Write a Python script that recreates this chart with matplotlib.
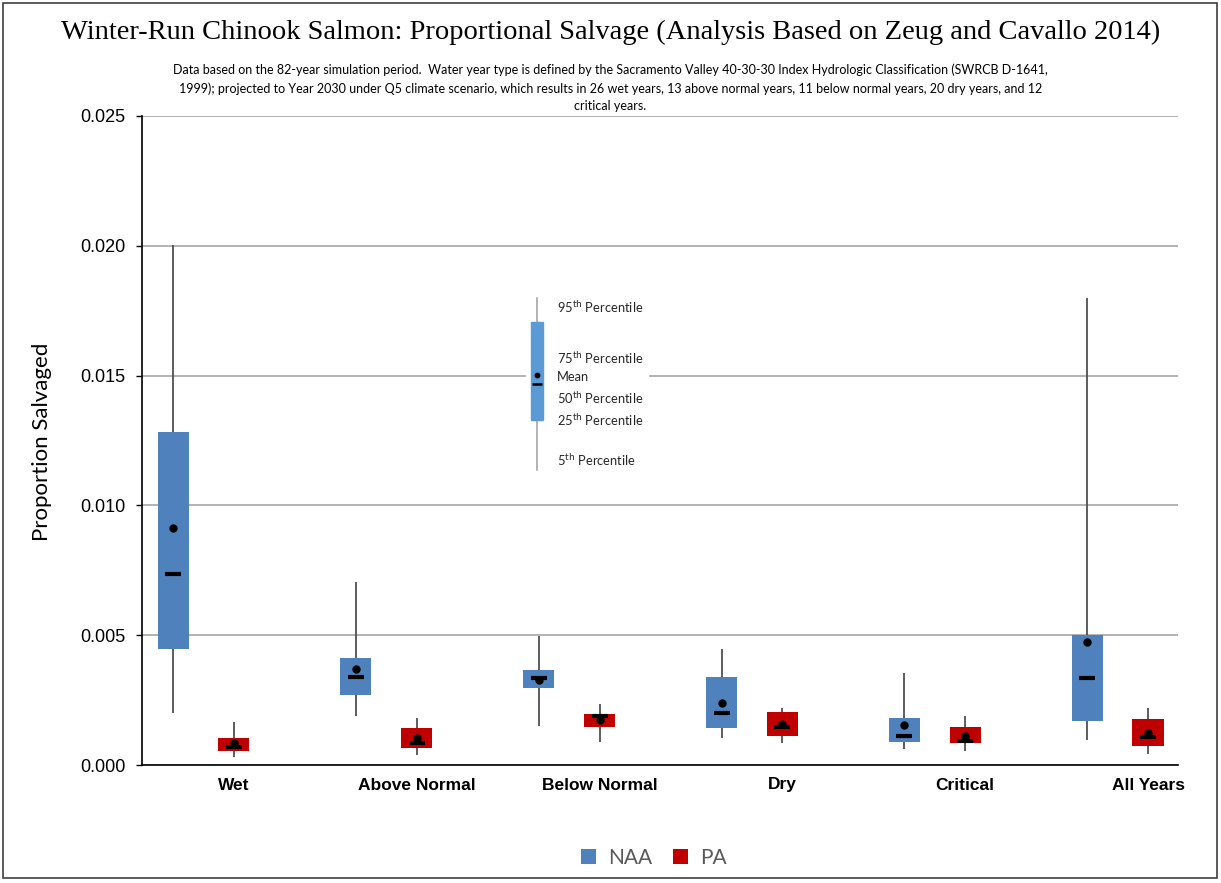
import matplotlib
matplotlib.use("Agg")
import matplotlib.pyplot as plt
from matplotlib.patches import Rectangle, Patch
from matplotlib.lines import Line2D

categories = ["Wet", "Above Normal", "Below Normal", "Dry", "Critical", "All Years"]

# NAA statistics (5th, 25th, 50th, 75th, 95th percentiles and mean)
naa_p5 = [0.00201, 0.00187, 0.00149, 0.00103, 0.00061, 0.00097]
naa_p25 = [0.00446, 0.00271, 0.00295, 0.00144, 0.00090, 0.00170]
naa_p50 = [0.00735, 0.00340, 0.00335, 0.00200, 0.00110, 0.00336]
naa_p75 = [0.01282, 0.00413, 0.00366, 0.00339, 0.00182, 0.00500]
naa_p95 = [0.02003, 0.00704, 0.00497, 0.00448, 0.00354, 0.01799]
naa_mean = [0.00912, 0.00370, 0.00327, 0.00240, 0.00156, 0.00474]

# PA statistics
pa_p5 = [0.00029, 0.00038, 0.00088, 0.00086, 0.00054, 0.00044]
pa_p25 = [0.00053, 0.00065, 0.00148, 0.00112, 0.00084, 0.00073]
pa_p50 = [0.00070, 0.00085, 0.00188, 0.00146, 0.00093, 0.00107]
pa_p75 = [0.00105, 0.00142, 0.00197, 0.00205, 0.00147, 0.00178]
pa_p95 = [0.00164, 0.00181, 0.00236, 0.00220, 0.00188, 0.00219]
pa_mean = [0.00085, 0.00103, 0.00175, 0.00157, 0.00113, 0.00124]

yticks = [0.000, 0.005, 0.010, 0.015, 0.020, 0.025]

NAA_COLOR = "#4F81BD"
PA_COLOR = "#C00000"

fig = plt.figure(figsize=(12.21, 8.83), dpi=100)
ax = fig.add_axes([142/1221, 1-765/883, (1178-142)/1221, (765-116)/883])

offset = 0.333
bw = 0.17

def draw_series(xs, p5, p25, p50, p75, p95, mean, color):
    ax.vlines(xs, p5, p95, color="#505050", lw=1.3, zorder=2)
    ax.bar(xs, [b - a for a, b in zip(p25, p75)], bottom=p25, width=bw,
           color=color, edgecolor="none", zorder=3)
    ax.plot(xs, p50, ls="none", marker="_", ms=11, mew=3, color="black", zorder=4)
    ax.plot(xs, mean, ls="none", marker="o", ms=5, color="black", zorder=5)

x_pa = list(range(len(categories)))
x_naa = [i - offset for i in x_pa]
draw_series(x_naa, naa_p5, naa_p25, naa_p50, naa_p75, naa_p95, naa_mean, NAA_COLOR)
draw_series(x_pa, pa_p5, pa_p25, pa_p50, pa_p75, pa_p95, pa_mean, PA_COLOR)

ax.set_xlim(-0.503, 5.164)
ax.set_ylim(0, 0.025)
ax.set_yticks(yticks)
ax.set_yticklabels([f"{v:.3f}" for v in yticks], fontsize=13, family="Liberation Sans")
ax.set_xticks(x_pa)
ax.set_xticklabels(categories, fontsize=12.5, fontweight="bold", family="Liberation Sans")
ax.tick_params(axis="x", length=0, pad=9)
ax.tick_params(axis="y", length=4, width=1, direction="out", pad=8)
ax.grid(axis="y", color="#A6A6A6", lw=1.2, zorder=0)
ax.set_axisbelow(True)
for s in ["top", "right"]:
    ax.spines[s].set_visible(False)
ax.spines["left"].set_color("black")
ax.spines["bottom"].set_color("black")
ax.spines["left"].set_linewidth(1.2)
ax.spines["bottom"].set_linewidth(1.2)

fig.text(42/1221, 1-442/883, "Proportion Salvaged", rotation=90, ha="center", va="center",
         fontsize=16, family="Lato")

fig.text(0.5, 1-32/883,
         "Winter-Run Chinook Salmon: Proportional Salvage (Analysis Based on Zeug and Cavallo 2014)",
         ha="center", va="center", fontsize=20.5, family="Liberation Serif")
subtitle = ("Data based on the 82-year simulation period.  Water year type is defined by the Sacramento Valley 40-30-30 Index Hydrologic Classification (SWRCB D-1641,\n"
            "1999); projected to Year 2030 under Q5 climate scenario, which results in 26 wet years, 13 above normal years, 11 below normal years, 20 dry years, and 12\n"
            "critical years.")
fig.text(0.5, 1-88/883, subtitle, ha="center", va="center", fontsize=9, family="Lato",
         linespacing=1.55)

# Key illustration
T = ax.transAxes
ax.add_patch(Rectangle((0.3707, 0.4468), 0.1177, 0.2851, transform=T, color="white", zorder=6))
kx = 0.3813
ax.add_line(Line2D([kx, kx], [0.4545, 0.7196], transform=T, color="#A6A6A6", lw=1.2, zorder=7))
ax.add_patch(Rectangle((kx - 0.0058, 0.5316), 0.0116, 0.151, transform=T, color="#5B9BD5", zorder=8))
ax.plot([kx], [0.6009], transform=T, marker="o", ms=3.2, color="black", zorder=9)
ax.plot([kx], [0.5871], transform=T, marker="_", ms=7, mew=1.8, color="black", zorder=9)
key_labels = [("95$^{\\rm th}$ Percentile", 0.7057), ("75$^{\\rm th}$ Percentile", 0.6271),
              ("Mean", 0.5978), ("50$^{\\rm th}$ Percentile", 0.5655),
              ("25$^{\\rm th}$ Percentile", 0.5316), ("5$^{\\rm th}$ Percentile", 0.4700)]
for txt, yy in key_labels:
    ax.text(0.4006, yy, txt, transform=T, ha="left", va="center", fontsize=9.3,
            family="Lato", color="#262626", zorder=10)

handles = [Patch(facecolor=NAA_COLOR, label="NAA"), Patch(facecolor=PA_COLOR, label="PA")]
leg = fig.legend(handles=handles, loc="center", bbox_to_anchor=(654/1221, 1-858/883), ncol=2,
                 frameon=False, prop={"family": "Lato", "size": 15}, handlelength=0.7,
                 handleheight=0.7, handletextpad=0.6, columnspacing=1.0)
for t in leg.get_texts():
    t.set_color("#595959")

fig.add_artist(Rectangle((3/1221, 5/883), 1214/1221, 875/883, transform=fig.transFigure,
                         fill=False, edgecolor="#404040", lw=1.2))

fig.savefig("out.png", dpi=100)
